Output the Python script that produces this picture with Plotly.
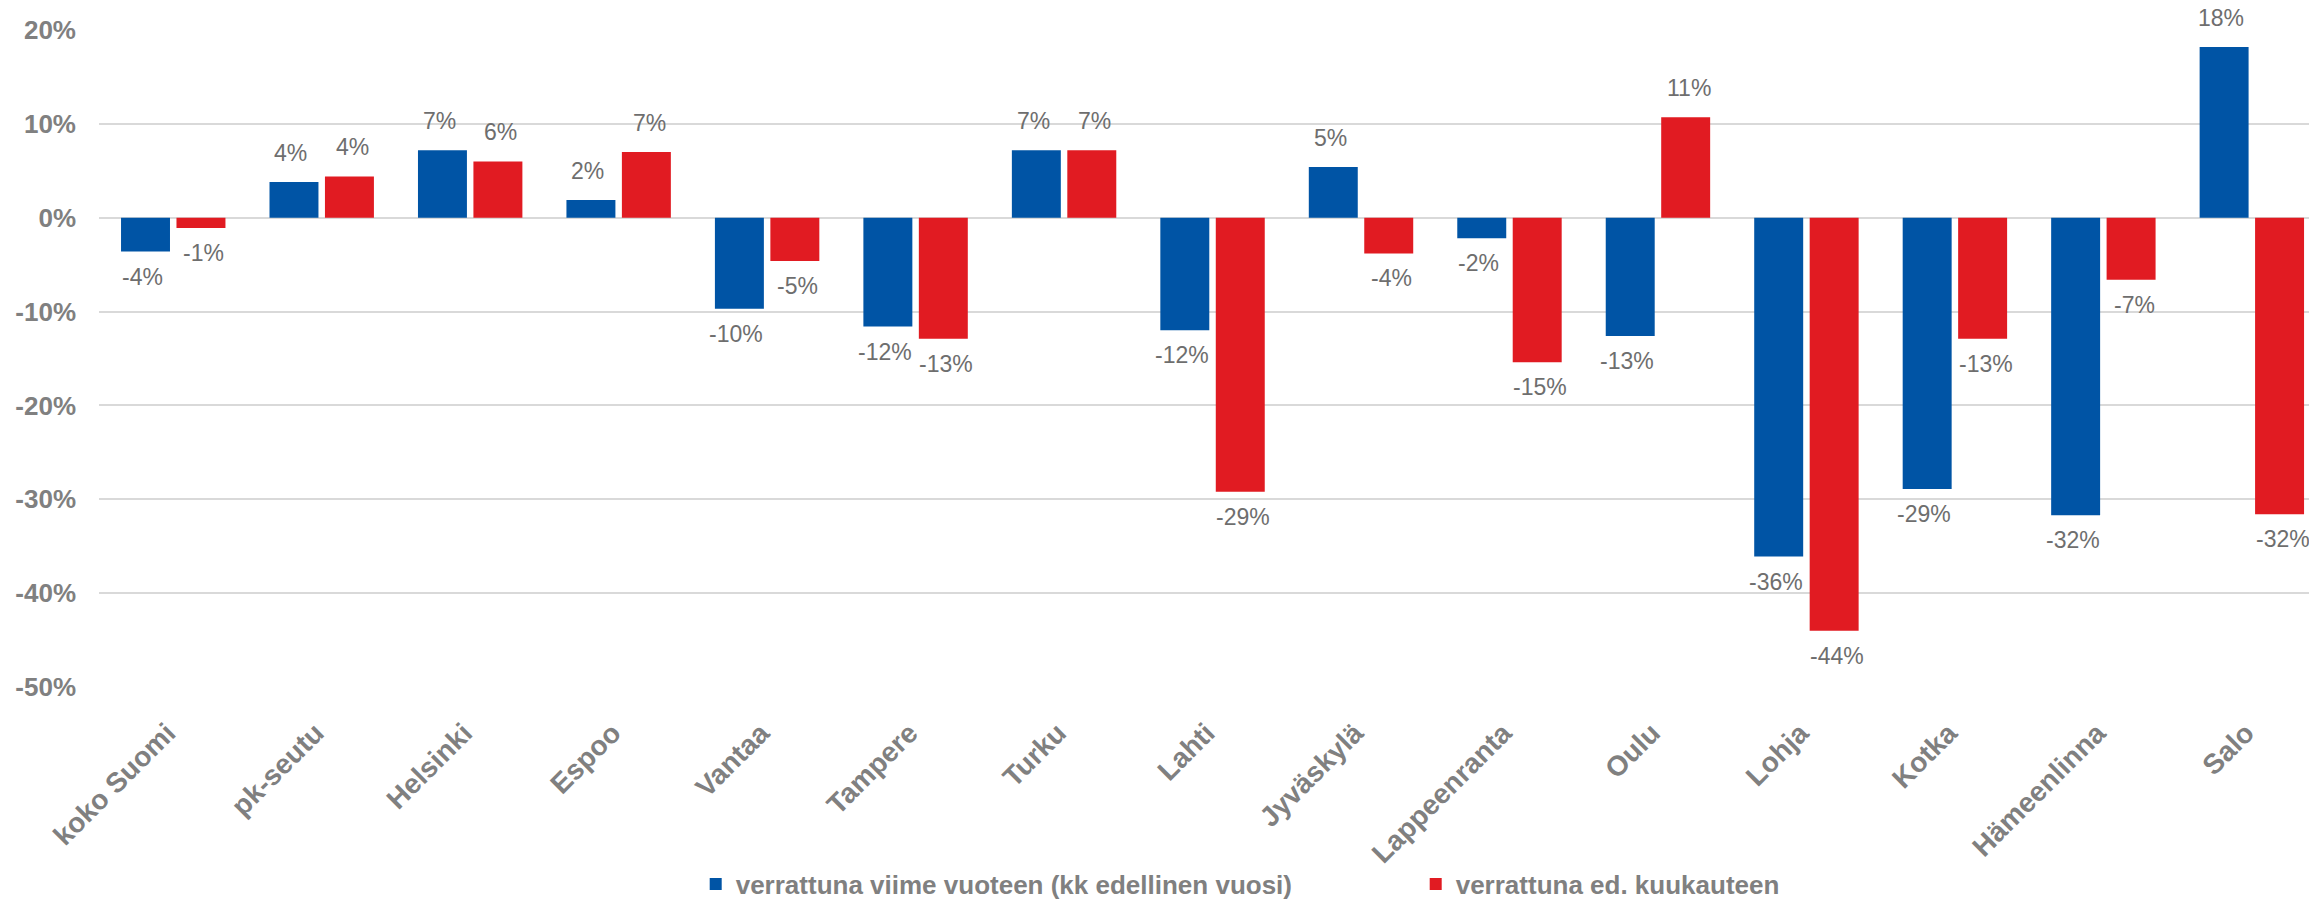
import plotly.graph_objects as go

categories = ["koko Suomi", "pk-seutu", "Helsinki", "Espoo", "Vantaa", "Tampere", "Turku",
              "Lahti", "Jyväskylä", "Lappeenranta", "Oulu", "Lohja", "Kotka", "Hämeenlinna", "Salo"]
vs_year = [-3.6, 3.8, 7.2, 1.9, -9.7, -11.6, 7.2, -12.0, 5.4, -2.2, -12.6, -36.1, -28.9, -31.7, 18.2]
vs_month = [-1.1, 4.4, 6.0, 7.0, -4.6, -12.9, 7.2, -29.2, -3.8, -15.4, 10.7, -44.0, -12.9, -6.6, -31.6]
series_names = ["verrattuna viime vuoteen (kk edellinen vuosi)", "verrattuna ed. kuukauteen"]
y_ticks = [20, 10, 0, -10, -20, -30, -40, -50]

BLUE = "#0054A5"
RED = "#E11B22"
AXIS_GRAY = "#808080"
LABEL_GRAY = "#6E6E6E"
FONT = "Liberation Sans, Arial, sans-serif"

idx = list(range(len(categories)))
BAR_OFF = 0.207  # half-distance between the two bar centres in category units

fig = go.Figure()
fig.add_trace(go.Bar(x=idx, y=vs_year, name=series_names[0], marker_color=BLUE,
                     marker_line_width=0))
fig.add_trace(go.Bar(x=idx, y=vs_month, name=series_names[1], marker_color=RED,
                     marker_line_width=0))

for series, off in ((vs_year, -BAR_OFF), (vs_month, BAR_OFF)):
    for i, v in zip(idx, series):
        fig.add_annotation(x=i + off, y=v, xref="x", yref="y",
                           text=f"{round(v):d}%", showarrow=False,
                           yanchor="middle", yshift=29 if v >= 0 else -25,
                           font=dict(family=FONT, size=23, color=LABEL_GRAY))

fig.update_layout(
    width=2309, height=899,
    margin=dict(l=99, r=0, t=30, b=212, autoexpand=False),
    plot_bgcolor="white", paper_bgcolor="white",
    barmode="group", bargap=0.253, bargroupgap=0.117,
    showlegend=True,
    legend=dict(orientation="h", x=0.270, xanchor="left", y=-0.30, yanchor="middle",
                entrywidth=675, entrywidthmode="pixels", bgcolor="rgba(0,0,0,0)",
                font=dict(family=FONT, size=26, color=AXIS_GRAY, weight="bold"),
                itemwidth=30, traceorder="normal"),
)
fig.update_xaxes(range=[-0.5, 14.385], tickmode="array", tickvals=idx, ticktext=categories,
                 tickangle=-45, showgrid=False, zeroline=False, showline=False, ticks="",
                 tickfont=dict(family=FONT, size=28, color=AXIS_GRAY, weight="bold"),
                 ticklabelshift=-6, ticklabelstandoff=23)
fig.update_yaxes(range=[-50, 20], tickmode="array", tickvals=y_ticks,
                 ticktext=[f"{t}%" for t in y_ticks],
                 showgrid=True, gridcolor="#D9D9D9", gridwidth=1.5,
                 zeroline=True, zerolinecolor="#D9D9D9", zerolinewidth=1.5,
                 showline=False, ticks="",
                 tickfont=dict(family=FONT, size=26, color=AXIS_GRAY, weight="bold"),
                 ticklabelstandoff=22)

fig.write_html("out.html", config={"displayModeBar": False},
               post_script="document.body.style.margin='0';document.body.style.overflow='hidden';")
